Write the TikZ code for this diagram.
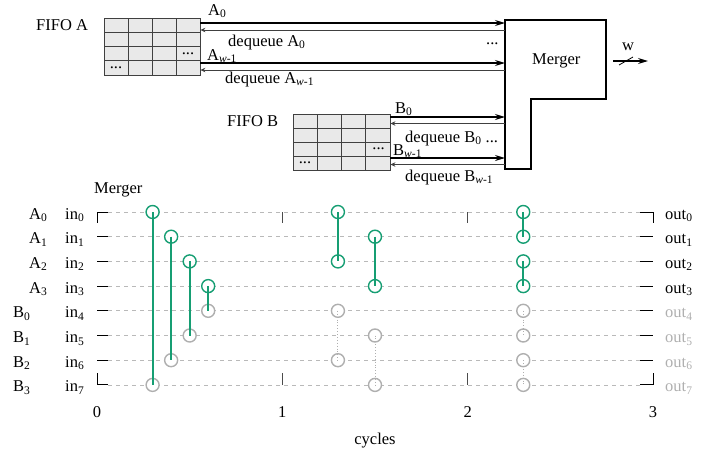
\documentclass[tikz,border=0pt]{standalone}
\usepackage{fontspec}
\setmainfont{Liberation Serif}
\usepackage{xcolor}
\usepackage{tikz}
\usetikzlibrary{arrows.meta, positioning, calc}

\definecolor{cmpgreen}{RGB}{22,158,115}
\definecolor{cmpgray}{RGB}{175,175,175}
\definecolor{cellgray}{RGB}{233,233,233}
\definecolor{wiregray}{RGB}{185,185,185}

\newcommand{\lo}[1]{\textsubscript{#1}}
\newcommand{\wmo}{\textit{w}-1}

\begin{document}
\begin{tikzpicture}[x=1pt, y=-1pt, font=\fontsize{16.5}{20}\selectfont,
  cell/.style={draw=black!75, fill=cellgray, line width=0.8pt},
  fwd/.style={-{Stealth[length=10pt, width=6pt]}, line width=1.2pt},
  bwd/.style={{Stealth[length=5pt, width=4.5pt]}-, line width=0.9pt, black!75},
  lbl/.style={anchor=base west, inner sep=0pt},
  wire/.style={wiregray, line width=0.8pt, dash pattern=on 4pt off 4pt},
  brk/.style={line width=1pt},
  axtick/.style={black!70, line width=1pt},
  cmp/.style={circle, draw=cmpgreen, fill=white, line width=1.4pt, minimum size=13pt, inner sep=0pt},
  cmpoff/.style={cmp, draw=cmpgray},
  link/.style={cmpgreen, line width=1.8pt},
  linkoff/.style={cmpgray, line width=0.9pt, dotted}]

\useasboundingbox (0,0) rectangle (715,456);

% FIFO A
\node[lbl] (fifoA) at (36,30) {FIFO A};
\node[inner sep=0pt, minimum width=96pt, minimum height=57pt, anchor=north west] (qA) at (104,18) {};
\foreach \c in {0,...,3}
  \foreach \r in {0,...,3}
    \draw[cell] ({104+24*\c},{18+14.25*\r}) rectangle +(24,14.25);
\node (dA1) at (188,53.6) {...};
\node (dA2) at (116,67.9) {...};

% FIFO B
\node[lbl] (fifoB) at (227,126) {FIFO B};
\node[inner sep=0pt, minimum width=97pt, minimum height=56pt, anchor=north west] (qB) at (293,114) {};
\foreach \c in {0,...,3}
  \foreach \r in {0,...,3}
    \draw[cell] ({293+24.25*\c},{114+14*\r}) rectangle +(24.25,14);
\node (dB1) at (378.6,149) {...};
\node (dB2) at (305,163) {...};

% Merger block
\coordinate (mrgW) at (505,20);
\draw[line width=1.2pt] (mrgW) -- (606,20) -- (606,99) -- (531,99) -- (531,169) -- (505,169) -- cycle;
\node[lbl] (mrg) at (532,64) {Merger};

% Lanes A
\draw[fwd] (qA.east |- 0,23) -- (mrgW |- 0,23);
\draw[bwd] (qA.east |- 0,30) -- (mrgW |- 0,30);
\draw[fwd] (qA.east |- 0,63) -- (mrgW |- 0,63);
\draw[bwd] (qA.east |- 0,70) -- (mrgW |- 0,70);
\node[lbl] (a0) at (208,15) {A\lo{0}};
\node[lbl] (deqA0) at (228,46) {dequeue A\lo{0}};
\node[lbl] (dotsA) at (486,44) {...};
\node[lbl] (aw) at (207,60) {A\lo{\wmo}};
\node[lbl] (deqAw) at (225,83) {dequeue A\lo{\wmo}};

% Lanes B
\draw[fwd] (qB.east |- 0,117) -- (mrgW |- 0,117);
\draw[bwd] (qB.east |- 0,123.5) -- (mrgW |- 0,123.5);
\draw[fwd] (qB.east |- 0,158) -- (mrgW |- 0,158);
\draw[bwd] (qB.east |- 0,164.5) -- (mrgW |- 0,164.5);
\node[lbl] (b0) at (395,113) {B\lo{0}};
\node[lbl] (deqB0) at (405,142) {dequeue B\lo{0} ...};
\node[lbl] (bw) at (393,155) {B\lo{\wmo}};
\node[lbl] (deqBw) at (405,181) {dequeue B\lo{\wmo}};

% Output
\coordinate (oS) at (613,61);
\coordinate (oE) at (648,61);
\draw[fwd] (oS) -- (oE);
\draw[line width=0.8pt] (619,65) -- (633,57);
\node[lbl] (wout) at (622,50) {w};

% Network
\node[lbl] (net) at (94,193) {Merger};
\foreach \i in {0,...,7} {
  \pgfmathsetmacro{\yy}{212+24.7*\i}
  \coordinate (wl\i) at (108,\yy);
  \coordinate (wr\i) at (640,\yy);
  \draw[wire] (wl\i) -- (wr\i);
  \node[lbl] (in\i) at (65,\yy+7) {in\lo{\i}};
}
\foreach \i in {0,...,3} {
  \node[lbl] (A\i) at (29,{219+24.7*\i}) {A\lo{\i}};
  \node[lbl] (out\i) at (665,{219+24.7*\i}) {out\lo{\i}};
}
\foreach \i [evaluate=\i as \j using int(\i+4)] in {0,...,3} {
  \node[lbl] (B\i) at (13,{219+24.7*\j}) {B\lo{\i}};
  \node[lbl, text=cmpgray] (out\j) at (665,{219+24.7*\j}) {out\lo{\j}};
}

% Brackets and ticks
\draw[brk] (wl0) -| ++(-11,11);
\draw[brk] (wl7) -| ++(-11,-12);
\draw[brk] (wr0) -| ++(13,11);
\draw[brk] (wr7) -| ++(13,-12);
\foreach \i in {1,...,6} {
  \draw[brk] (wl\i) -- ++(-11,0);
  \draw[brk] (wr\i) -- ++(13,0);
}
\foreach \c in {1,2} {
  \draw[axtick] ({97+185.33*\c},212) -- ++(0,11);
  \draw[axtick] ({97+185.33*\c},385) -- ++(0,-12);
}

% Comparators
\foreach \n/\c/\a/\b/\ta/\tb/\ln in {
    1/0.3/0/7/cmp/cmpoff/link, 2/0.4/1/6/cmp/cmpoff/link,
    3/0.5/2/5/cmp/cmpoff/link, 4/0.6/3/4/cmp/cmpoff/link,
    5/1.3/0/2/cmp/cmp/link, 6/1.5/1/3/cmp/cmp/link,
    7/1.3/4/6/cmpoff/cmpoff/linkoff, 8/1.5/5/7/cmpoff/cmpoff/linkoff,
    9/2.3/0/1/cmp/cmp/link, 10/2.3/2/3/cmp/cmp/link,
    11/2.3/4/5/cmpoff/cmpoff/linkoff, 12/2.3/6/7/cmpoff/cmpoff/linkoff} {
  \node[\ta] (k\n a) at ({97+185.33*\c},{212+24.7*\a}) {};
  \node[\tb] (k\n b) at ({97+185.33*\c},{212+24.7*\b}) {};
  \draw[\ln] (k\n a.center) -- (k\n b.center);
}

% Axis
\foreach \c in {0,...,3}
  \node[anchor=base] (t\c) at ({97+185.33*\c},417) {\c};
\node[anchor=base] (cyc) at (375,444) {cycles};

\end{tikzpicture}
\end{document}
